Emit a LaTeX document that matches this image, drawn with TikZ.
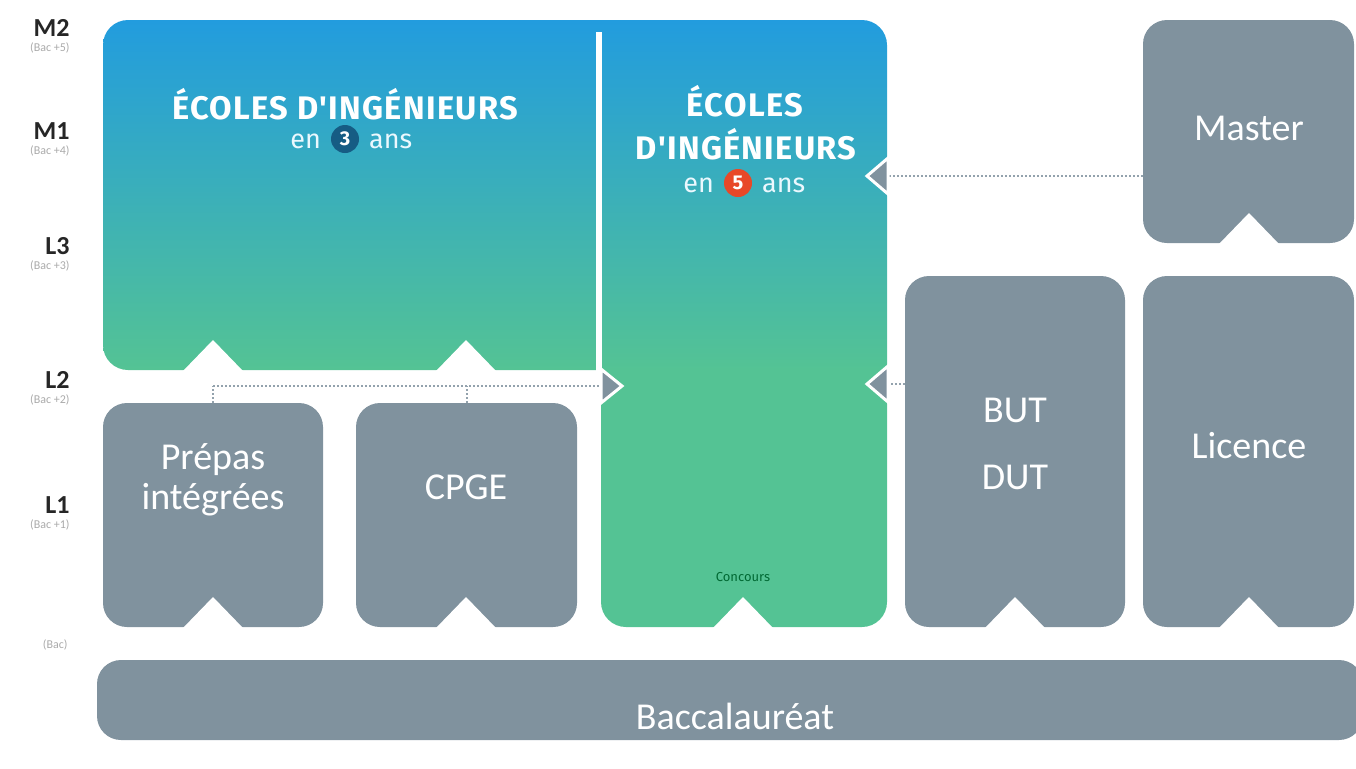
\documentclass[tikz,border=0pt]{standalone}
\usepackage{fontspec}
\setmainfont{Carlito}
\newfontfamily\fira{Fira Sans}[LetterSpace=4.0]
\newfontfamily\firareg{Fira Sans}
\definecolor{boxgray}{RGB}{128,146,158}
\definecolor{gtop}{RGB}{34,156,222}
\definecolor{gbot}{RGB}{84,195,148}
\definecolor{navy}{RGB}{22,92,132}
\definecolor{orng}{RGB}{232,72,40}
\definecolor{levgray}{RGB}{170,170,170}
\begin{document}
\begin{tikzpicture}[x=0.5pt,y=-0.5pt,
  box/.style={fill=boxgray, draw=none, rounded corners=12pt, inner sep=0pt},
  lbl/.style={text=white, font=\fontsize{19}{20}\selectfont, align=center},
  ttl/.style={text=white, font=\fira\bfseries\fontsize{16.3}{18}\selectfont},
  sub/.style={text=white!92!cyan, font=\firareg\fontsize{13.5}{15}\selectfont},
  num/.style={circle, inner sep=0pt, minimum size=14pt, text=white, font=\firareg\bfseries\fontsize{10}{11}\selectfont},
  lev/.style={anchor=east, inner sep=0pt, font=\bfseries\fontsize{13}{14}\selectfont, text=black!85},
  bacl/.style={anchor=east, inner sep=0pt, font=\fontsize{6}{7}\selectfont, text=levgray},
  dotline/.style={draw=boxgray!85, densely dotted, line width=1pt},
  arrowtip/.style={fill=boxgray, draw=white, line width=1.5pt, line join=miter},
  notch/.style={fill=white}
]
\useasboundingbox (0,0) rectangle (1356,768);

% gradient boxes (ecoles d'ingenieurs)
\begin{scope}
  \clip[rounded corners=12.5pt] (601,20) rectangle (887,627);
  \shade[top color=gtop, bottom color=gbot] (90,20) rectangle (900,370);
  \fill[gbot] (90,369) rectangle (900,640);
\end{scope}
\begin{scope}
  \clip[rounded corners=12.5pt] (103,20) rectangle (680,370);
  \shade[top color=gtop, bottom color=gbot] (90,20) rectangle (900,370);
\end{scope}
\node[inner sep=0pt, minimum width=247pt, minimum height=175pt] (e3) at (350,195) {};
\node[inner sep=0pt, minimum width=143pt, minimum height=303.5pt] (e5) at (744,323.5) {};
\draw[white, line width=2.6pt] (599,32) -- (599,372);

% gray boxes
\node[box, minimum width=110pt, minimum height=112pt] (prepa) at (213,515) {};
\node[box, minimum width=110.5pt, minimum height=112pt] (cpge) at (466.5,515) {};
\node[box, minimum width=110pt, minimum height=175.5pt] (but) at (1015,451.5) {};
\node[box, minimum width=105.5pt, minimum height=175.5pt] (licence) at (1248.5,451.5) {};
\node[box, minimum width=105.5pt, minimum height=111.5pt] (master) at (1248.5,131.5) {};
\node[box, minimum width=633pt, minimum height=40pt] (bac) at (730,700) {};

% notches
\foreach \cx in {213,466}{\fill[notch] (\cx-31,372) -- (\cx,340) -- (\cx+31,372) -- cycle;}
\foreach \cx in {213,466,743,1015,1249}{\fill[notch] (\cx-31,629) -- (\cx,597) -- (\cx+31,629) -- cycle;}
\fill[notch] (1218,245) -- (1249,213) -- (1280,245) -- cycle;

% connectors
\coordinate (tipM) at (867,176);
\coordinate (tipB) at (867,384);
\coordinate (tipL) at (622,386);
\draw[dotline] (master.west |- tipM) -- (tipM);
\draw[dotline] (but.west |- tipB) -- (tipB);
\draw[dotline] (prepa.north |- tipL) -- (tipL);
\draw[dotline] (prepa.north) -- (prepa.north |- tipL);
\draw[dotline] (cpge.north) -- (cpge.north |- tipL);
\filldraw[arrowtip] (888,158) -- (tipM) -- (888,194) -- cycle;
\filldraw[arrowtip] (888,366) -- (tipB) -- (888,402) -- cycle;
\filldraw[arrowtip] (601,369) -- (tipL) -- (601,403) -- cycle;

% texts in gray boxes
\node[lbl] (tprepa) at (213,480) {Prépas\\intégrées};
\node[lbl] (tcpge) at (466,487) {CPGE};
\node[lbl] (tbut) at (1015,410) {BUT};
\node[lbl] (tdut) at (1015,477) {DUT};
\node[lbl] (tlic) at (1249,446) {Licence};
\node[lbl] (tmas) at (1249,128) {Master};
\node[lbl] (tbac) at (735,716) {Baccalauréat};

% titles
\node[ttl] (t3) at (345,104) {ÉCOLES D'INGÉNIEURS};
\node[num, fill=navy] (n3) at (345,139) {3};
\node[sub, anchor=east] (en3) at (328,141) {en};
\node[sub, anchor=west] (ans3) at (362,141) {ans};
\node[ttl] (t5a) at (745,101) {ÉCOLES};
\node[ttl] (t5b) at (746,144) {D'INGÉNIEURS};
\node[num, fill=orng] (n5) at (738,183) {5};
\node[sub, anchor=east] (en5) at (721,185) {en};
\node[sub, anchor=west] (ans5) at (755,185) {ans};
\node[font=\firareg\fontsize{6.5}{7}\selectfont, text=black!65!green!60!teal] (conc) at (743,577) {Concours};

% levels
\node[lev] (m2) at (70,28) {M2};  \node[bacl] (b5) at (70,48) {(Bac +5)};
\node[lev] (m1) at (70,131) {M1}; \node[bacl] (b4) at (70,151) {(Bac +4)};
\node[lev] (l3) at (70,246) {L3}; \node[bacl] (b3) at (70,266) {(Bac +3)};
\node[lev] (l2) at (70,380) {L2}; \node[bacl] (b2) at (70,400) {(Bac +2)};
\node[lev] (l1) at (70,505) {L1}; \node[bacl] (b1) at (70,525) {(Bac +1)};
\node[bacl] (b0) at (68,645) {(Bac)};
\end{tikzpicture}
\end{document}
